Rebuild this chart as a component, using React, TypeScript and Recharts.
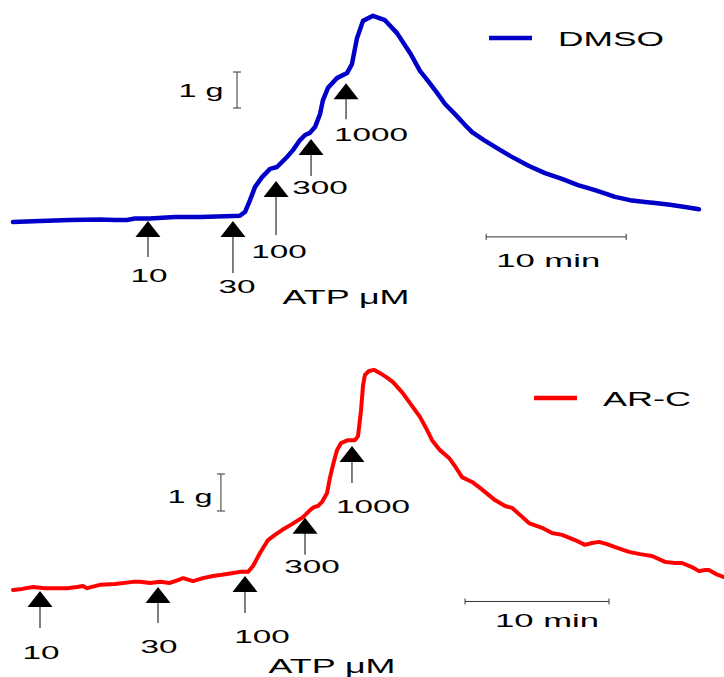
import React from 'react'
import { LineChart, Line, XAxis, YAxis, ReferenceDot, ReferenceLine, Legend, Customized } from 'recharts'

// DMSO trace: minutes from start of recording, tension above baseline (g)
const dmsoTime = [
  0, 1.93, 4.07, 6.21, 7.29, 8.14, 8.71, 9.79, 11.57, 13.36, 15.14, 16.21, 16.57, 16.93, 17.29,
  17.79, 18.36, 18.86, 19.57, 20.0, 20.5, 20.86, 21.21, 21.57, 21.93, 22.14, 22.5, 23.14, 23.86,
  24.21, 24.57, 25.0, 25.71, 26.57, 27.43, 28.36, 29.07, 29.71, 30.29, 30.86, 31.57, 32.29, 32.79,
  33.64, 34.43, 35.5, 36.86, 38.0, 39.21, 40.36, 41.57, 42.43, 43.0, 44.07, 45.14, 45.86, 46.93,
  48.0, 49.0,
]
const dmsoTension = [
  -0.17, -0.14, -0.11, -0.1, -0.11, -0.11, -0.07, -0.07, -0.03, -0.03, -0.01, 0.01, 0.11, 0.44, 0.81,
  1.08, 1.31, 1.36, 1.64, 1.83, 2.11, 2.25, 2.31, 2.47, 2.83, 3.22, 3.56, 3.83, 3.97,
  4.22, 4.94, 5.42, 5.56, 5.44, 5.08, 4.53, 4.03, 3.72, 3.42, 3.11, 2.83, 2.53, 2.33,
  2.11, 1.92, 1.67, 1.39, 1.19, 1.03, 0.86, 0.72, 0.61, 0.53, 0.44, 0.39, 0.36, 0.31,
  0.25, 0.19,
]

// AR-C trace
const arcTime = [
  0, 0.63, 1.39, 2.22, 2.92, 3.75, 4.44, 4.86, 5.14, 6.04, 7.08, 8.33, 8.82, 9.51, 10.21, 10.9,
  11.46, 11.81, 12.5, 13.19, 13.89, 14.51, 15.28, 15.76, 16.32, 16.67, 17.15, 17.71, 18.19, 18.68,
  19.38, 20.14, 20.63, 20.9, 21.18, 21.46, 21.81, 22.01, 22.22, 22.5, 22.78, 23.26, 23.75, 23.96,
  24.17, 24.31, 24.44, 24.72, 25.07, 25.49, 25.9, 26.39, 27.01, 27.57, 28.26, 28.68, 29.1, 29.65,
  30.28, 30.69, 31.18, 31.88, 32.43, 33.47, 34.17, 34.65, 35.21, 35.83, 36.74, 37.43, 38.13, 39.03,
  39.72, 40.21, 40.69, 41.25, 41.81, 42.78, 43.54, 44.38, 45.28, 45.97, 46.46, 47.15, 47.64, 48.06,
  48.33, 48.82, 49.38,
]
const arcTension = [
  0, 0.03, 0.08, 0.05, 0.05, 0.05, 0.08, 0.11, 0.05, 0.14, 0.16, 0.22, 0.22, 0.19, 0.22, 0.19,
  0.27, 0.32, 0.24, 0.32, 0.38, 0.41, 0.46, 0.49, 0.49, 0.65, 1.0, 1.35, 1.49, 1.62,
  1.78, 1.97, 2.16, 2.24, 2.27, 2.38, 2.62, 3.03, 3.38, 3.78, 3.97, 4.05, 4.05, 4.16,
  4.86, 5.54, 5.81, 5.92, 5.95, 5.86, 5.76, 5.62, 5.35, 5.05, 4.68, 4.38, 4.05, 3.78,
  3.57, 3.35, 3.05, 2.92, 2.76, 2.43, 2.27, 2.22, 2.03, 1.81, 1.68, 1.54, 1.49, 1.35,
  1.22, 1.27, 1.3, 1.24, 1.16, 1.03, 0.97, 0.92, 0.76, 0.73, 0.73, 0.62, 0.51, 0.54,
  0.54, 0.43, 0.35,
]

// ATP additions (µM): time of addition and trace level under the arrow tip
const doses = ['10', '30', '100', '300', '1000']
const dmsoDoseTime = [9.64, 15.71, 18.79, 21.29, 23.79]
const dmsoDoseLevel = [-0.14, -0.14, 0.97, 2.14, 3.69]
const arcDoseTime = [1.875, 10.07, 16.11, 20.28, 23.54]
const arcDoseLevel = [-0.03, 0.08, 0.38, 1.95, 3.89]

// arrow drawing: stem length and label offset (px) from the arrow tip
const dmsoArrowLayout = [
  { stem: 36, dx: 1, dy: 61 },
  { stem: 52, dx: 4, dy: 72 },
  { stem: 54, dx: 3, dy: 77 },
  { stem: 37, dx: 9, dy: 55 },
  { stem: 36, dx: 25, dy: 58 },
]
const arcArrowLayout = [
  { stem: 37, dx: 1, dy: 68 },
  { stem: 36, dx: 1, dy: 66 },
  { stem: 37, dx: 17, dy: 67 },
  { stem: 37, dx: 7, dy: 55 },
  { stem: 37, dx: 21, dy: 67 },
]

const dmsoData = dmsoTime.map((t, i) => ({ t, g: dmsoTension[i] }))
const arcData = arcTime.map((t, i) => ({ t, g: arcTension[i] }))

const FONT = '"Liberation Sans", Arial, sans-serif'

// the original figure's lettering is stretched sideways
const WideText = ({ x, y, width, size = 19, anchor = 'middle', children }: any) => (
  <text
    x={x}
    y={y}
    fontSize={size}
    fontFamily={FONT}
    fill="#000"
    textAnchor={anchor}
    textLength={width}
    lengthAdjust="spacingAndGlyphs"
  >
    {children}
  </text>
)

const Arrow = ({ cx, cy, stem, dx, dy, dose }: any) => {
  if (cx == null || cy == null) return null
  return (
    <g>
      <line x1={cx} y1={cy + 14} x2={cx} y2={cy + stem} stroke="#555" strokeWidth={1.5} />
      <polygon points={`${cx},${cy} ${cx - 12.5},${cy + 16} ${cx + 12.5},${cy + 16}`} fill="#000" />
      <WideText x={cx + dx} y={cy + dy} width={dose.length * 18.5}>
        {dose}
      </WideText>
    </g>
  )
}

// horizontal time bar with end ticks
const TimeBar = ({ x1, y1, x2, tdx, tdy }: any) => (
  <g>
    <line x1={x1} y1={y1} x2={x2} y2={y1} stroke="#333" strokeWidth={1} />
    <line x1={x1} y1={y1 - 3} x2={x1} y2={y1 + 3} stroke="#333" strokeWidth={1} />
    <line x1={x2} y1={y1 - 3} x2={x2} y2={y1 + 3} stroke="#333" strokeWidth={1} />
    <WideText x={(x1 + x2) / 2 + tdx} y={y1 + tdy} width={104}>
      10 min
    </WideText>
  </g>
)

// vertical tension bar with caps
const TensionBar = ({ x1, y1, y2, tdx, tdy }: any) => (
  <g>
    <line x1={x1} y1={y1} x2={x1} y2={y2} stroke="#333" strokeWidth={1} />
    <line x1={x1 - 4} y1={y1} x2={x1 + 4} y2={y1} stroke="#333" strokeWidth={1} />
    <line x1={x1 - 4} y1={y2} x2={x1 + 4} y2={y2} stroke="#333" strokeWidth={1} />
    <WideText x={x1 + tdx} y={y1 + tdy} width={45}>
      1 g
    </WideText>
  </g>
)

const LegendSwatch = ({ payload, textWidth }: any) => {
  const item = payload && payload[0]
  if (!item) return null
  return (
    <svg width={220} height={30} style={{ display: 'block' }}>
      <line x1={2} x2={45} y1={12} y2={12} stroke={item.color} strokeWidth={4.5} />
      <WideText x={71} y={20} width={textWidth} size={20.5} anchor="start">
        {item.value}
      </WideText>
    </svg>
  )
}

const Caption = ({ x, y }: { x: number; y: number }) => (
  <WideText x={x} y={y} width={127} size={19.5}>
    ATP μM
  </WideText>
)

interface PanelProps {
  data: { t: number; g: number }[]
  name: string
  color: string
  top: number
  height: number
  xDomain: [number, number]
  yDomain: [number, number]
  doseTime: number[]
  doseLevel: number[]
  arrowLayout: { stem: number; dx: number; dy: number }[]
  timeBar: { t: number; g: number; tdx: number; tdy: number }
  tensionBar: { t: number; g: number; tdx: number; tdy: number }
  legendPos: { left: number; top: number; textWidth: number }
  caption: { x: number; y: number }
  strokeWidth: number
}

function TracePanel(p: PanelProps) {
  return (
    <div style={{ position: 'absolute', left: 0, top: p.top, width: 724, height: p.height }}>
      <LineChart width={724} height={p.height} data={p.data} margin={{ top: 0, right: 0, bottom: 0, left: 0 }}>
        <XAxis type="number" dataKey="t" domain={p.xDomain} allowDataOverflow hide />
        <YAxis type="number" domain={p.yDomain} allowDataOverflow hide />
        <Legend
          layout="vertical"
          align="center"
          verticalAlign="middle"
          wrapperStyle={{ left: p.legendPos.left, top: p.legendPos.top, width: 220, height: 30, margin: 0, padding: 0 }}
          content={(props: any) => <LegendSwatch {...props} textWidth={p.legendPos.textWidth} />}
        />
        <Line
          type="linear"
          dataKey="g"
          name={p.name}
          stroke={p.color}
          strokeWidth={p.strokeWidth}
          strokeLinejoin="round"
          strokeLinecap="round"
          dot={false}
          activeDot={false}
          isAnimationActive={false}
        />
        <ReferenceLine
          segment={[
            { x: p.timeBar.t, y: p.timeBar.g },
            { x: p.timeBar.t + 10, y: p.timeBar.g },
          ]}
          shape={(s: any) => <TimeBar {...s} tdx={p.timeBar.tdx} tdy={p.timeBar.tdy} />}
        />
        <ReferenceLine
          segment={[
            { x: p.tensionBar.t, y: p.tensionBar.g },
            { x: p.tensionBar.t, y: p.tensionBar.g + 1 },
          ]}
          shape={(s: any) => <TensionBar {...s} tdx={p.tensionBar.tdx} tdy={p.tensionBar.tdy} />}
        />
        {doses.map((dose, i) => (
          <ReferenceDot
            key={dose}
            x={p.doseTime[i]}
            y={p.doseLevel[i]}
            r={1}
            shape={(s: any) => <Arrow {...s} {...p.arrowLayout[i]} dose={dose} />}
          />
        ))}
        <Customized component={() => <Caption x={p.caption.x} y={p.caption.y} />} />
      </LineChart>
    </div>
  )
}

export default function App() {
  return (
    <div style={{ position: 'absolute', left: 0, top: 0, width: 724, height: 677, background: '#fff' }}>
      <TracePanel
        data={dmsoData}
        name="DMSO"
        color="#0000c8"
        top={0}
        height={330}
        xDomain={[-13 / 14, 711 / 14]}
        yDomain={[-114 / 36, 216 / 36]}
        doseTime={dmsoDoseTime}
        doseLevel={dmsoDoseLevel}
        arrowLayout={dmsoArrowLayout}
        timeBar={{ t: 33.8, g: -0.58, tdx: -8, tdy: 30 }}
        tensionBar={{ t: 16.0, g: 3.0, tdx: -36, tdy: -11 }}
        legendPos={{ left: 487, top: 26, textWidth: 106 }}
        caption={{ x: 346, y: 304 }}
        strokeWidth={4.5}
      />
      <TracePanel
        data={arcData}
        name="AR-C"
        color="#ff0000"
        top={340}
        height={337}
        xDomain={[-13 / 14.4, 711 / 14.4]}
        yDomain={[-87 / 37, 250 / 37]}
        doseTime={arcDoseTime}
        doseLevel={arcDoseLevel}
        arrowLayout={arcArrowLayout}
        timeBar={{ t: 31.39, g: -0.31, tdx: 10, tdy: 25.5 }}
        tensionBar={{ t: 14.44, g: 2.135, tdx: -31, tdy: -8 }}
        legendPos={{ left: 532, top: 46, textWidth: 88 }}
        caption={{ x: 332, y: 333 }}
        strokeWidth={4}
      />
    </div>
  )
}
